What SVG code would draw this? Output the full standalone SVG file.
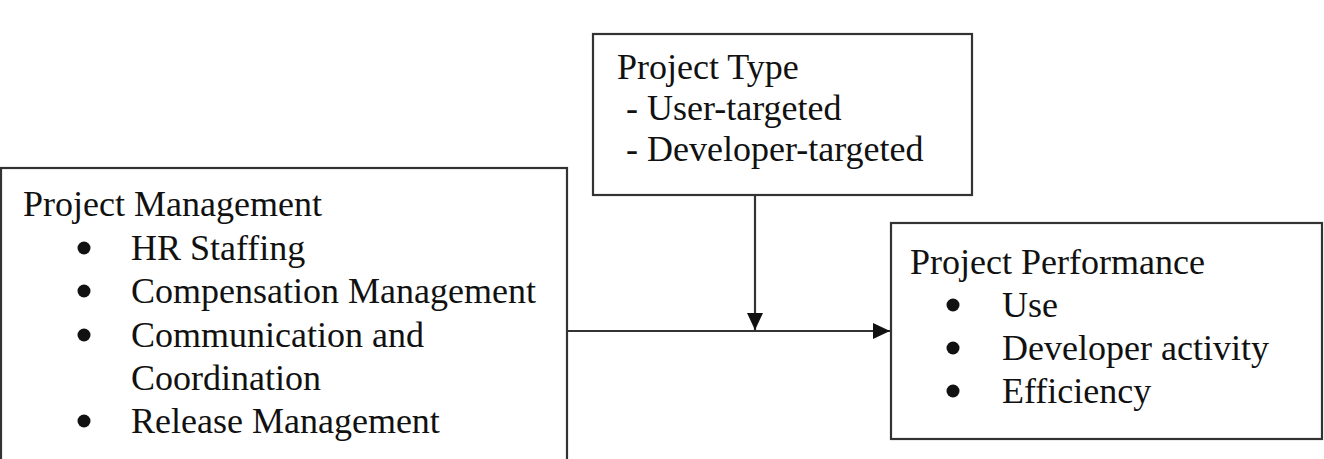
<svg xmlns="http://www.w3.org/2000/svg" width="1324" height="459" viewBox="0 0 1324 459">
<style>
.box{fill:#fff;stroke:#333;stroke-width:2.2}
.t{font-family:"Liberation Serif","Times New Roman",serif;font-size:36px;fill:#111}
.dot{fill:#111}
.c{stroke:#333;stroke-width:2.2;fill:none}
</style>
<defs>
<marker id="ah" markerWidth="17" markerHeight="16" refX="17" refY="8" orient="auto" markerUnits="userSpaceOnUse">
<path d="M0,0 L17,8 L0,16 Z" fill="#111"/>
</marker>
</defs>
<rect width="1324" height="459" fill="#fff"/>
<g id="project-management">
<rect class="box" x="1" y="168" width="566" height="300"/>
<text class="t" x="23" y="216">Project Management</text>
<circle class="dot" cx="84" cy="248" r="6.5"/><text class="t" x="131" y="260">HR Staffing</text>
<circle class="dot" cx="84" cy="291" r="6.5"/><text class="t" x="131" y="303">Compensation Management</text>
<circle class="dot" cx="84" cy="335" r="6.5"/><text class="t" x="131" y="347">Communication and</text>
<text class="t" x="131" y="390">Coordination</text>
<circle class="dot" cx="84" cy="421" r="6.5"/><text class="t" x="131" y="433">Release Management</text>
</g>
<g id="project-type">
<rect class="box" x="593" y="34" width="379" height="161"/>
<text class="t" x="617" y="79">Project Type</text>
<text class="t" x="617" y="120" xml:space="preserve"> - User-targeted</text>
<text class="t" x="617" y="161" xml:space="preserve"> - Developer-targeted</text>
</g>
<g id="project-performance">
<rect class="box" x="891" y="223" width="431" height="216"/>
<text class="t" x="910" y="274">Project Performance</text>
<circle class="dot" cx="953" cy="305" r="6.5"/><text class="t" x="1002" y="317">Use</text>
<circle class="dot" cx="953" cy="348" r="6.5"/><text class="t" x="1002" y="360">Developer activity</text>
<circle class="dot" cx="953" cy="391" r="6.5"/><text class="t" x="1002" y="403">Efficiency</text>
</g>
<g id="connectors">
<line class="c" x1="567" y1="331" x2="890" y2="331" marker-end="url(#ah)"/>
<line class="c" x1="755" y1="195" x2="755" y2="330" marker-end="url(#ah)"/>
</g>
</svg>
